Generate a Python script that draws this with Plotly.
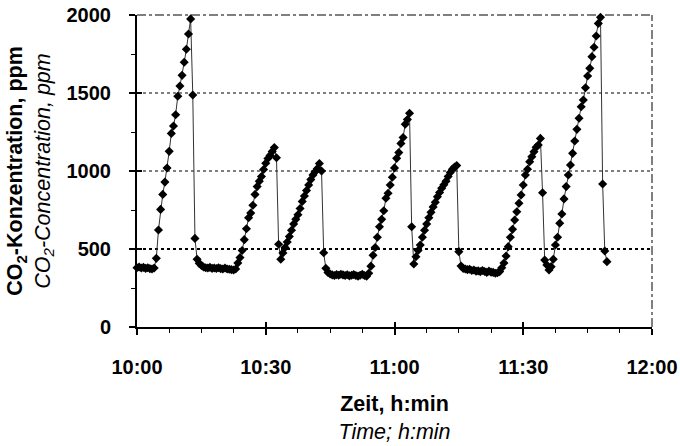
import plotly.graph_objects as go

# ---------------- data ----------------
START_TIME = "10:00"
SAMPLE_INTERVAL_MIN = 0.5  # one reading every 30 s

co2_ppm = [
    380, 385, 378, 382, 376, 380, 374, 372, 378, 440,
    622, 754, 850, 929, 1019, 1126, 1241, 1288, 1361, 1479,
    1545, 1613, 1697, 1780, 1878, 1975, 1487, 568, 434, 408,
    395, 385, 380, 378, 382, 376, 378, 375, 380, 374,
    372, 378, 372, 370, 368, 365, 372, 410, 445, 490,
    560, 630, 700, 730, 780, 850, 900, 935, 965, 1010,
    1050, 1080, 1100, 1125, 1150, 1085, 530, 434, 475, 510,
    545, 580, 620, 660, 690, 720, 760, 805, 840, 875,
    910, 945, 975, 995, 1015, 1048, 1000, 476, 376, 350,
    340, 334, 330, 336, 332, 338, 334, 330, 335, 328,
    332, 336, 330, 326, 332, 338, 330, 325, 345, 390,
    460, 510, 575, 643, 690, 745, 825, 857, 910, 960,
    1020, 1081, 1118, 1177, 1215, 1300, 1330, 1370, 643, 404,
    450, 490, 526, 575, 620, 660, 700, 735, 770, 800,
    835, 862, 890, 912, 935, 965, 990, 1012, 1025, 1035,
    483, 391, 376, 372, 368, 370, 362, 365, 358, 360,
    355, 362, 356, 350, 358, 352, 350, 345, 348, 355,
    380, 410, 455, 515, 575, 626, 686, 739, 793, 846,
    910, 974, 1011, 1060, 1092, 1124, 1152, 1167, 1209, 861,
    429, 397, 365, 387, 434, 526, 575, 665, 724, 821,
    900, 974, 1038, 1113, 1192, 1267, 1338, 1412, 1455, 1534,
    1609, 1658, 1733, 1793, 1865, 1946, 1985, 917, 487, 419,
]
time_min = [i * SAMPLE_INTERVAL_MIN for i in range(len(co2_ppm))]

x_tick_vals = [0, 30, 60, 90, 120]
x_tick_text = ["10:00", "10:30", "11:00", "11:30", "12:00"]
y_tick_vals = [0, 500, 1000, 1500, 2000]
y_tick_text = ["0", "500", "1000", "1500", "2000"]
grid_levels = [500, 1000, 1500]

x_title = "<b>Zeit, h:min</b><br><i>Time; h:min</i>"
y_title = "<b>CO<sub>2</sub>-Konzentration, ppm</b><br><i>CO<sub>2</sub>-Concentration, ppm</i>"

# ---------------- figure ----------------
FONT = "Liberation Sans, Arial, sans-serif"
fig = go.Figure()

fig.add_trace(go.Scatter(
    x=time_min, y=co2_ppm, mode="lines+markers",
    line=dict(color="#333333", width=1),
    marker=dict(symbol="diamond", size=7, color="black", line=dict(width=0)),
    showlegend=False, hoverinfo="x+y", cliponaxis=False,
))
# helper trace so the overlay axes (inside half of crossing ticks) are drawn
fig.add_trace(go.Scatter(
    x=[x_tick_vals[0]], y=[y_tick_vals[0]], xaxis="x2", yaxis="y2",
    mode="markers", marker=dict(opacity=0), showlegend=False, hoverinfo="skip",
))

shapes = []
for lvl in grid_levels:
    shapes.append(dict(type="line", xref="x domain", x0=0, x1=1, yref="y", y0=lvl, y1=lvl,
                       line=dict(color="black", width=2 if lvl == grid_levels[0] else 1, dash="dot"),
                       layer="below"))
shapes.append(dict(type="line", xref="x domain", x0=0, x1=1, yref="y domain", y0=1, y1=1,
                   line=dict(color="black", width=1, dash="dashdot"), layer="below"))
shapes.append(dict(type="line", xref="x domain", x0=1, x1=1, yref="y domain", y0=0, y1=1,
                   line=dict(color="black", width=1, dash="dashdot"), layer="below"))

tickfont = dict(family=FONT, size=20, color="black", weight="bold")
titlefont = dict(family=FONT, size=21.5, color="black")

fig.update_layout(
    width=680, height=446,
    margin=dict(l=137, r=28, t=15, b=119, autoexpand=False),
    paper_bgcolor="white", plot_bgcolor="white",
    font=dict(family=FONT, color="black"),
    shapes=shapes,
    xaxis=dict(
        range=[x_tick_vals[0], x_tick_vals[-1]], tickmode="array",
        tickvals=x_tick_vals, ticktext=x_tick_text, tickfont=tickfont,
        ticks="outside", ticklen=6, tickwidth=1.5, tickcolor="black",
        ticklabelstandoff=15, ticklabeloverflow="allow",
        minor=dict(tickmode="linear", tick0=0, dtick=7.5, ticks="outside",
                   ticklen=4, tickwidth=1, tickcolor="black"),
        showline=True, linecolor="black", linewidth=2,
        showgrid=False, zeroline=False,
        title=dict(text=x_title, font=titlefont, standoff=19),
    ),
    yaxis=dict(
        range=[y_tick_vals[0], y_tick_vals[-1]], tickmode="array",
        tickvals=y_tick_vals, ticktext=y_tick_text, tickfont=tickfont,
        ticks="outside", ticklen=6, tickwidth=1.5, tickcolor="black",
        ticklabelstandoff=14, ticklabeloverflow="allow",
        minor=dict(tickmode="linear", tick0=0, dtick=250, ticks="outside",
                   ticklen=4, tickwidth=1, tickcolor="black"),
        showline=True, linecolor="black", linewidth=2,
        showgrid=False, zeroline=False,
        title=dict(text=y_title, font=titlefont, standoff=10),
    ),
    xaxis2=dict(
        overlaying="x", anchor="y", side="bottom",
        range=[x_tick_vals[0], x_tick_vals[-1]], tickmode="array", tickvals=x_tick_vals,
        ticks="inside", ticklen=5, tickwidth=1.5, tickcolor="black",
        showticklabels=False, showline=False, showgrid=False, zeroline=False,
    ),
    yaxis2=dict(
        overlaying="y", anchor="x", side="left",
        range=[y_tick_vals[0], y_tick_vals[-1]], tickmode="array", tickvals=y_tick_vals,
        ticks="inside", ticklen=5, tickwidth=1.5, tickcolor="black",
        showticklabels=False, showline=False, showgrid=False, zeroline=False,
    ),
)

# remove the browser's default 8 px page margin so the figure fills the window exactly
fig.write_html(
    "out.html",
    config={"displayModeBar": False},
    post_script="document.body.style.margin='0px';document.body.style.overflow='hidden';",
)
